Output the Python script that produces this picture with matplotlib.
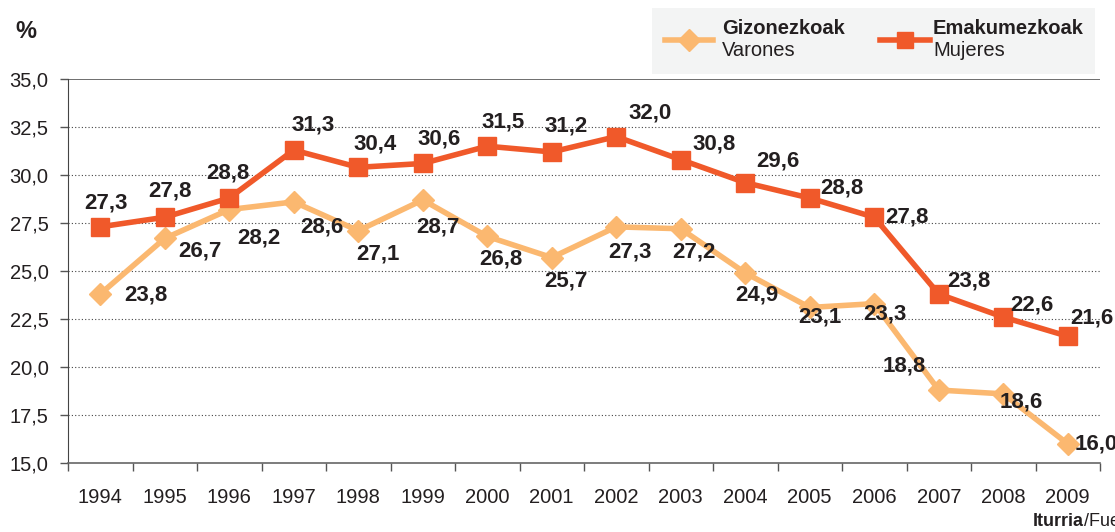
import matplotlib
matplotlib.use("Agg")
import matplotlib.pyplot as plt
import numpy as np
from matplotlib.lines import Line2D
from matplotlib.patches import Rectangle

plt.rcParams['font.family'] = ['Liberation Sans', 'DejaVu Sans']

years = ['1994', '1995', '1996', '1997', '1998', '1999', '2000', '2001',
         '2002', '2003', '2004', '2005', '2006', '2007', '2008', '2009']
gizonezkoak = [23.8, 26.7, 28.2, 28.6, 27.1, 28.7, 26.8, 25.7,
               27.3, 27.2, 24.9, 23.1, 23.3, 18.8, 18.6, 16.0]
emakumezkoak = [27.3, 27.8, 28.8, 31.3, 30.4, 30.6, 31.5, 31.2,
                32.0, 30.8, 29.6, 28.8, 27.8, 23.8, 22.6, 21.6]
yticks = [15.0, 17.5, 20.0, 22.5, 25.0, 27.5, 30.0, 32.5, 35.0]

# label offsets in pixels (dx, dy)
off_m = [(46, -1), (35, -13), (30, -28), (28, -25), (20, -23), (15, -27),
         (14, -23), (14, -23), (14, -25), (13, -23), (12, -22), (10, -10),
         (11, -10), (-34, 24), (18, -8), (28, 0)]
off_w = [(6, 24), (5, 26), (-1, 25), (19, 25), (17, 23), (16, 24),
         (16, 24), (14, 26), (34, 24), (33, 16), (33, 22), (32, 10),
         (33, 0), (30, 13), (29, 12), (24, 18)]

c_m = '#FBB870'
c_w = '#F0592A'
txt = '#231F20'

fig = plt.figure(figsize=(11.15, 5.32), dpi=100)
ax = fig.add_axes([68/1115, 1-463/532, (1100-68)/1115, (463-79)/532])

x = np.arange(len(years))
ax.plot(x, gizonezkoak, color=c_m, lw=4, marker='D', ms=11.5, zorder=3)
ax.plot(x, emakumezkoak, color=c_w, lw=4, marker='s', ms=13, zorder=4)

for i in range(len(years)):
    ax.annotate(f'{gizonezkoak[i]:.1f}'.replace('.', ','), (x[i], gizonezkoak[i]),
                xytext=off_m[i], textcoords='offset pixels', ha='center', va='center',
                fontsize=16, fontweight='bold', color=txt, annotation_clip=False, zorder=5)
    ax.annotate(f'{emakumezkoak[i]:.1f}'.replace('.', ','), (x[i], emakumezkoak[i]),
                xytext=off_w[i], textcoords='offset pixels', ha='center', va='center',
                fontsize=16, fontweight='bold', color=txt, annotation_clip=False, zorder=5)

ax.set_xlim(-0.5, len(years) - 0.5)
ax.set_ylim(15, 35)
ax.set_yticks(yticks)
ax.set_yticklabels([f'{v:.1f}'.replace('.', ',') for v in yticks], fontsize=14.5, color=txt)
ax.set_xticks(x)
ax.set_xticklabels(years, fontsize=14.5, color=txt)
ax.set_xticks(np.arange(-0.5, len(years)), minor=True)
ax.tick_params(axis='x', which='major', length=0, pad=18)
ax.tick_params(axis='x', which='minor', length=6, color='#555555', width=1)
ax.tick_params(axis='y', length=6, color='#555555', width=1, pad=8)

for v in yticks[1:-1]:
    ax.axhline(v, color='#444444', lw=0.8, ls=(0, (1, 2)), zorder=1)
ax.axhline(35, color='#555555', lw=1.2, zorder=1)

for s in ['top', 'right']:
    ax.spines[s].set_visible(False)
ax.spines['left'].set_color('#444444')
ax.spines['bottom'].set_color('#666666')
ax.spines['bottom'].set_linewidth(1.2)

# percent sign
fig.text(15/1115, 1-31/532, '%', fontsize=17, fontweight='bold', color=txt, va='center')

# legend box
W, H = 1115, 532
fig.patches.append(Rectangle((652/W, 1-74/H), (1095-652)/W, (74-8)/H,
                             transform=fig.transFigure, facecolor='#F3F4F4',
                             edgecolor='none', zorder=0))
fig.add_artist(Line2D([665/W, 713/W], [1-40/H, 1-40/H], color=c_m, lw=4))
fig.add_artist(Line2D([689/W], [1-40/H], color=c_m, marker='D', ms=11))
fig.add_artist(Line2D([880/W, 930/W], [1-40/H, 1-40/H], color=c_w, lw=4))
fig.add_artist(Line2D([905/W], [1-40/H], color=c_w, marker='s', ms=12))
fig.text(722/W, 1-29/H, 'Gizonezkoak', fontsize=14.5, fontweight='bold', color=txt, va='center')
fig.text(722/W, 1-51/H, 'Varones', fontsize=14.5, color=txt, va='center')
fig.text(933/W, 1-29/H, 'Emakumezkoak', fontsize=14.5, fontweight='bold', color=txt, va='center')
fig.text(933/W, 1-51/H, 'Mujeres', fontsize=14.5, color=txt, va='center')

# source
src = fig.text(1033/W, 1-522/H, 'Iturria', fontsize=13, fontweight='bold', color=txt, va='center')
ax.annotate('/Fuente: EUSTAT', xy=(1, 0.5), xycoords=src, va='center', ha='left',
            fontsize=13, color=txt, annotation_clip=False)

fig.savefig('out.png', dpi=100)
